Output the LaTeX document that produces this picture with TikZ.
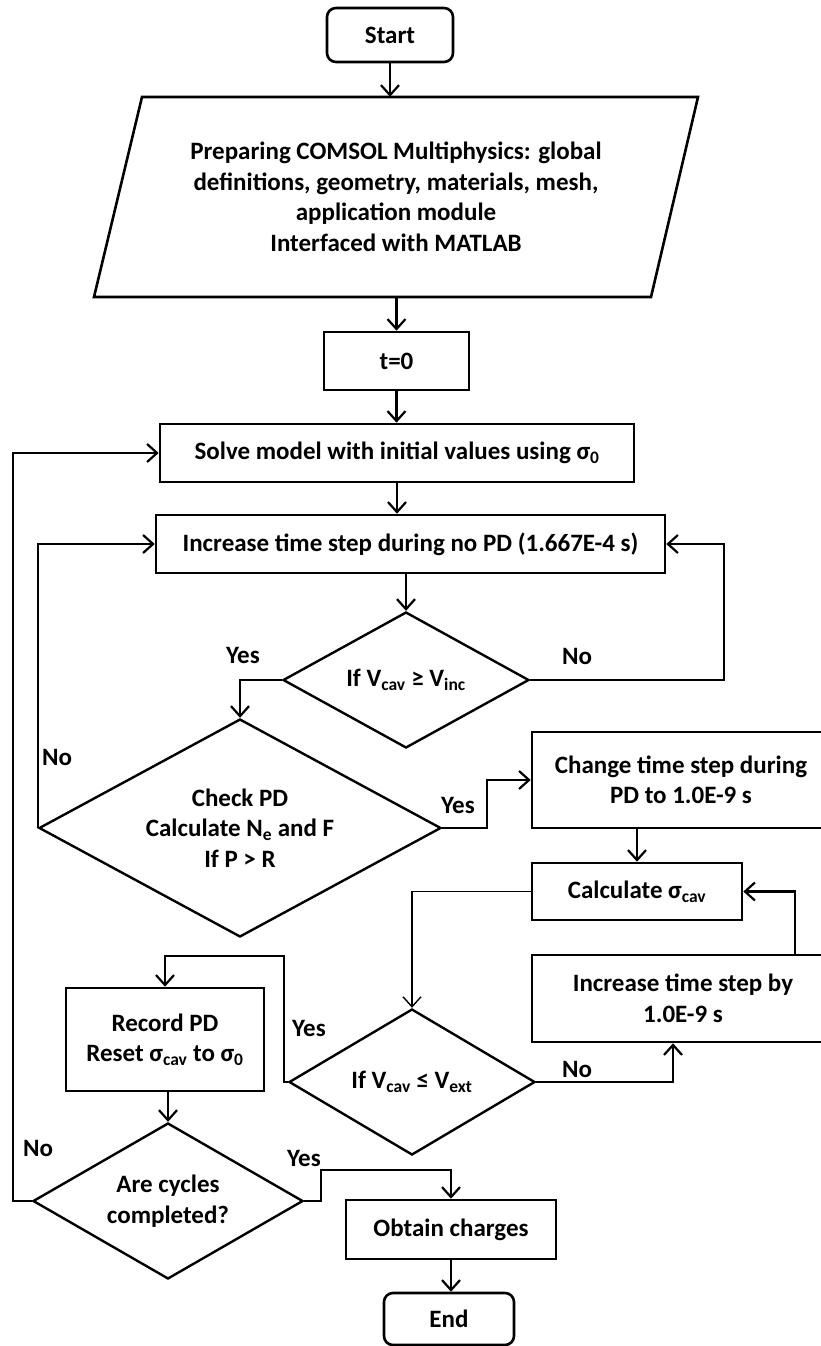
\documentclass[tikz,border=0pt]{standalone}
\usepackage{fontspec}
\setmainfont{Carlito}
\usepackage{tikz}
\usetikzlibrary{arrows.meta,shapes.geometric}

\newcommand{\sbs}[1]{\textsubscript{#1}}

\begin{document}
\begin{tikzpicture}[
  x=1pt, y=-1pt,
  font=\fontsize{25}{30.5}\selectfont\bfseries,
  term/.style={draw, rounded corners=9pt, line width=2.6pt, align=center},
  block/.style={draw, line width=2.6pt, align=center},
  decision/.style={draw, diamond, line width=2.4pt, align=center, inner sep=0pt},
  arrow/.style={-{Straight Barb[length=10pt,width=18pt]}, line width=2.2pt},
  lbl/.style={inner sep=0pt}
]
  \clip (0,0) rectangle (821,1346);
  \fill[white] (0,0) rectangle (821,1346);

  \node[term, minimum width=126pt, minimum height=54pt] (start) at (390,35) {Start};
  \node[align=center, minimum width=500pt, minimum height=200pt] (prep) at (396,197)
    {Preparing COMSOL Multiphysics: global\\definitions, geometry, materials, mesh,\\application module\\Interfaced with MATLAB};
  \draw[line width=2.6pt] (142,97) -- (698,97) -- (651,297) -- (94,297) -- cycle;
  \node[block, minimum width=145pt, minimum height=58pt] (t0) at (396.5,361) {t=0};
  \node[block, minimum width=474pt, minimum height=58pt] (solve) at (397,453) {Solve model with initial values using σ\sbs{0}};
  \node[block, minimum width=509pt, minimum height=58pt] (incr) at (410.5,544) {Increase time step during no PD (1.667E-4 s)};

  \node[decision, minimum width=246pt, minimum height=136pt, aspect=1.8] (dec1) at (406,680) {If V\sbs{cav} ≥ V\sbs{inc}};
  \node[decision, minimum width=402pt, minimum height=218pt, aspect=1.85] (dec2) at (240,828) {Check PD\\Calculate N\sbs{e} and F\\If P > R};

  \node[block, minimum width=298pt, minimum height=96pt] (change) at (681,780) {Change time step during\\PD to 1.0E-9 s};
  \node[block, minimum width=210pt, minimum height=57pt] (calc) at (637,891.5) {Calculate σ\sbs{cav}};
  \node[block, minimum width=302pt, minimum height=87pt] (incr2) at (683,998.5) {Increase time step by\\1.0E-9 s};

  \node[decision, minimum width=246pt, minimum height=146pt, aspect=1.68] (dec3) at (412,1082) {If V\sbs{cav} ≤ V\sbs{ext}};
  \node[block, minimum width=198pt, minimum height=103pt] (record) at (165,1039.5) {Record PD\\Reset σ\sbs{cav} to σ\sbs{0}};
  \node[decision, minimum width=270pt, minimum height=156pt, aspect=1.73] (dec4) at (168,1201) {Are cycles\\completed?};
  \node[block, minimum width=210pt, minimum height=59pt] (obtain) at (451,1229.5) {Obtain charges};
  \node[term, minimum width=130pt, minimum height=52pt] (endn) at (449,1319) {End};

  % branch labels
  \node[lbl] (yes1) at (243,655) {Yes};
  \node[lbl] (no1) at (577,656) {No};
  \node[lbl] (no2) at (57,757) {No};
  \node[lbl] (yes2) at (458,805) {Yes};
  \node[lbl] (yes3) at (309,1028) {Yes};
  \node[lbl] (no3) at (577,1069) {No};
  \node[lbl] (no4) at (38,1148) {No};
  \node[lbl] (yes4) at (304,1158) {Yes};

  \draw[arrow] (start.south) -- (start.south |- prep.north);
  \draw[arrow] (t0.north |- prep.south) -- (t0.north);
  \draw[arrow] (t0.south) -- (t0.south |- solve.north);
  \draw[arrow] (solve.south) -- (solve.south |- incr.north);
  \draw[arrow] (dec1.north |- incr.south) -- (dec1.north);
  \draw[arrow] (dec1.west) -| (dec2.north);
  \draw[arrow] (dec1.east) -- ++(194,0) |- (incr.east);
  \draw[arrow] (dec2.west) |- (incr.west);
  \draw[arrow] (dec2.east) -- ++(45,0) |- (change.west);
  \draw[arrow] (calc.north |- change.south) -- (calc.north);
  \draw[arrow, line width=1.4pt] (calc.west) -| (dec3.north);
  \draw[arrow] (dec3.east) -| ([xshift=-10pt]incr2.south);
  \draw[arrow] ([xshift=112pt]incr2.north) |- (calc.east);
  \draw[arrow] (dec3.west) -- ++(-4,0) -- ++(0,-126) -| (record.north);
  \draw[arrow] (dec4.north |- record.south) -- (dec4.north);
  \draw[arrow] (dec4.west) -- ++(-19,0) |- (solve.west);
  \draw[arrow] (dec4.east) -- ++(17,0) -- ++(0,-31) -| (obtain.north);
  \draw[arrow] (obtain.south) -- (obtain.south |- endn.north);
\end{tikzpicture}
\end{document}
